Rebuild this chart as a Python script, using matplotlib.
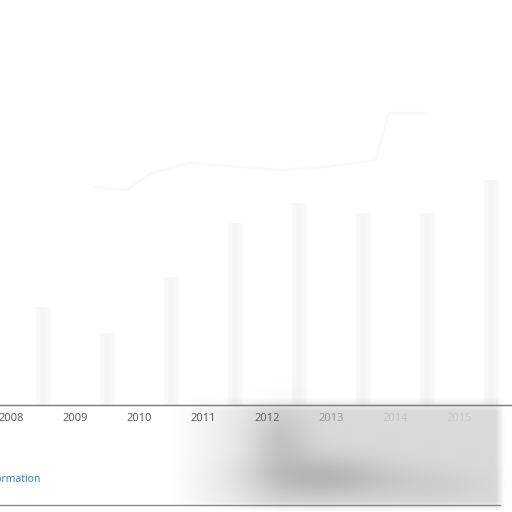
import numpy as np
import matplotlib.pyplot as plt

years = [2008, 2009, 2010, 2011, 2012, 2013, 2014, 2015]
bar_pos = [2008.5, 2009.5, 2010.5, 2011.5, 2012.5, 2013.5, 2014.5, 2015.5]
bar_vals = [98, 72, 128, 182, 202, 192, 192, 225]
line_pos = [2009.3, 2009.8, 2010.2, 2010.8, 2011.6, 2012.2, 2012.9, 2013.7, 2013.9, 2014.5]
line_vals = [218, 215, 232, 242, 238, 235, 238, 245, 292, 292]
label_alpha = [1, 1, 1, 1, 1, 0.55, 0.2, 0.15]

plt.rcParams['font.family'] = ['Open Sans', 'DejaVu Sans']

fig = plt.figure(figsize=(5.12, 5.12), dpi=100)
fig.patch.set_facecolor('white')

ax = fig.add_axes([0, 1 - 405 / 512, 1, 300 / 512])
# soft-edged faint bars
for w, a in [(0.26, 0.3), (0.18, 0.45), (0.1, 0.6)]:
    ax.bar(bar_pos, bar_vals, width=w, color='#f4f4f4', alpha=a, lw=0)
ax.plot(line_pos, line_vals, color='#f9f9f9', lw=2)
ax.set_xlim(2008 - 11 / 64, 2008 + 501 / 64)
ax.set_ylim(0, 300)
for s in ['top', 'left', 'right']:
    ax.spines[s].set_visible(False)
ax.spines['bottom'].set_color('#7a7a7a')
ax.spines['bottom'].set_linewidth(1.0)
ax.set_yticks([])
ax.set_xticks(years)
ax.set_xticklabels([str(y) for y in years])
ax.tick_params(axis='x', length=0, pad=6, labelsize=8, labelcolor='#555555')
for lbl, a in zip(ax.get_xticklabels(), label_alpha):
    lbl.set_alpha(a)


def soft(v, lo, hi, edge_lo, edge_hi):
    return np.clip((v - lo) / edge_lo, 0, 1) * np.clip((hi - v) / edge_hi, 0, 1)


# grey smudge over the lower right part
sm = fig.add_axes([0, 0, 1, 1], zorder=5)
sm.set_axis_off()
gx, gy = np.meshgrid(np.linspace(0, 512, 256), np.linspace(0, 512, 256))
band = 0.26 * soft(gx, 170, 505, 110, 8) * soft(gy, 398, 512, 14, 10)
dark = 0.26 * np.exp(-(((gx - 320) / 70) ** 2 + ((gy - 478) / 22) ** 2))
dark += 0.16 * np.exp(-(((gx - 280) / 30) ** 2 + ((gy - 440) / 30) ** 2))
dark += 0.08 * np.exp(-(((gx - 430) / 60) ** 2 + ((gy - 485) / 18) ** 2))
rgba = np.zeros((256, 256, 4))
rgba[..., :3] = 0.45
rgba[..., 3] = np.clip(band + dark, 0, 0.55)
sm.imshow(rgba, extent=[0, 512, 512, 0], aspect='auto', interpolation='bilinear')
sm.set_xlim(0, 512)
sm.set_ylim(512, 0)

fig.add_artist(plt.Line2D([0, 500 / 512], [1 - 505 / 512] * 2,
                          color='#8a8a8a', lw=1))
fig.text(40 / 512, 1 - 479 / 512, 'More information', color='#2b7bb0',
         fontsize=7.5, ha='right', va='center')

fig.savefig('out.png', dpi=100, facecolor='white')
